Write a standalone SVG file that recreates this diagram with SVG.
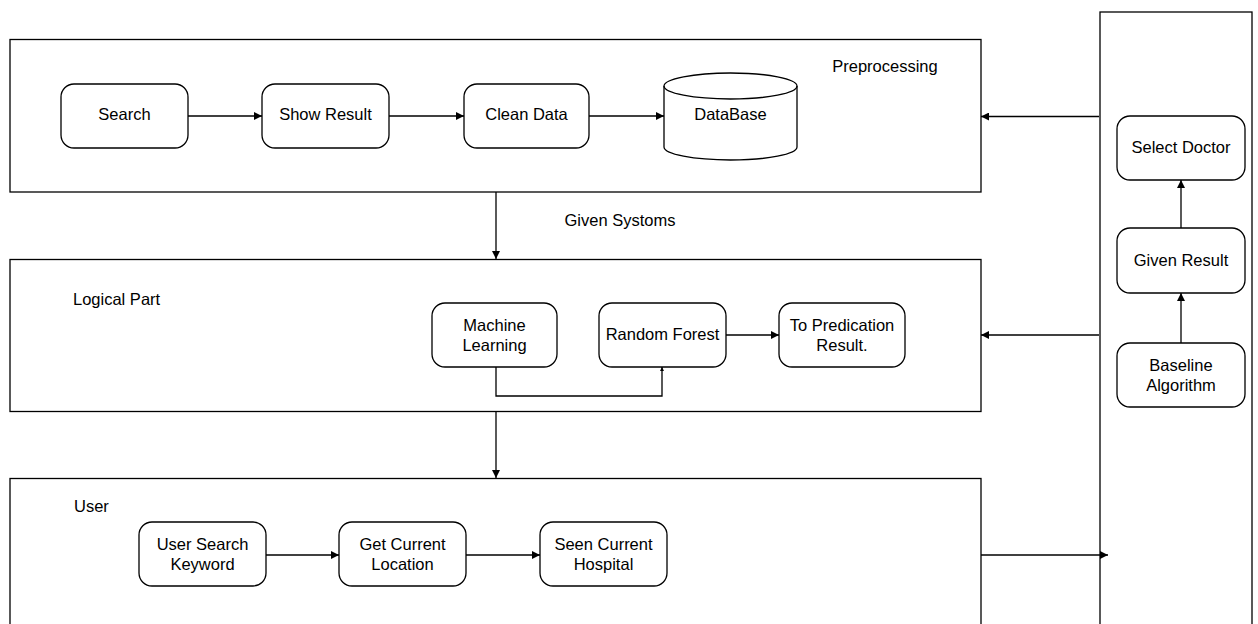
<svg xmlns="http://www.w3.org/2000/svg" width="1258" height="624" viewBox="0 0 1258 624">
<style>
.c{fill:#fff;stroke:#000;stroke-width:1.3}
.n{fill:#fff;stroke:#000;stroke-width:1.3}
.e{fill:none;stroke:#000;stroke-width:1.3}
text{font-family:"Liberation Sans",Arial,sans-serif;font-size:16.5px;fill:#000;text-anchor:middle}
.l{text-anchor:start}
</style>
<defs>
<marker id="a" viewBox="0 0 10 10" refX="10" refY="5" markerWidth="8" markerHeight="8" markerUnits="userSpaceOnUse" orient="auto"><path d="M0,0 L10,5 L0,10 Z" fill="#000"/></marker>
<marker id="s" viewBox="0 0 10 10" refX="10" refY="5" markerWidth="6" markerHeight="4" markerUnits="userSpaceOnUse" orient="auto"><path d="M0,0 L10,5 L0,10 Z" fill="#000"/></marker>
</defs>
<g id="preprocessing"><rect class="c" x="10" y="39.5" width="971" height="152.5"/><text x="885" y="72">Preprocessing</text></g>
<g id="logical"><rect class="c" x="10" y="259.5" width="971" height="152"/><text class="l" x="73" y="305">Logical Part</text></g>
<g id="user"><rect class="c" x="10" y="478.5" width="971" height="160"/><text class="l" x="74" y="512">User</text></g>
<g id="right"><rect class="c" x="1100" y="12" width="152" height="630"/></g>
<g id="search"><rect class="n" x="61" y="84" width="127" height="64" rx="13"/><text x="124.5" y="120">Search</text></g>
<g id="showresult"><rect class="n" x="262" y="84" width="127" height="64" rx="13"/><text x="325.5" y="120">Show Result</text></g>
<g id="cleandata"><rect class="n" x="464" y="84" width="125" height="64" rx="13"/><text x="526.5" y="120">Clean Data</text></g>
<g id="database"><path class="n" d="M664,86 L664,147 A66.5,13 0 0 0 797,147 L797,86 A66.5,13 0 0 0 664,86 Z"/><path class="e" d="M664,86 A66.5,13 0 0 0 797,86"/><text x="730.5" y="120">DataBase</text></g>
<g id="ml"><rect class="n" x="432" y="303" width="125" height="64" rx="13"/><text x="494.5" y="331">Machine</text><text x="494.5" y="351">Learning</text></g>
<g id="rf"><rect class="n" x="599" y="303" width="127" height="64" rx="13"/><text x="662.5" y="340">Random Forest</text></g>
<g id="tp"><rect class="n" x="779" y="303" width="126" height="64" rx="13"/><text x="842" y="331">To Predication</text><text x="842" y="351">Result.</text></g>
<g id="usk"><rect class="n" x="139" y="522" width="127" height="64" rx="13"/><text x="202.5" y="550">User Search</text><text x="202.5" y="570">Keyword</text></g>
<g id="gcl"><rect class="n" x="339" y="522" width="127" height="64" rx="13"/><text x="402.5" y="550">Get Current</text><text x="402.5" y="570">Location</text></g>
<g id="sch"><rect class="n" x="540" y="522" width="127" height="64" rx="13"/><text x="603.5" y="550">Seen Current</text><text x="603.5" y="570">Hospital</text></g>
<g id="sd"><rect class="n" x="1117" y="116" width="128" height="64" rx="13"/><text x="1181" y="153">Select Doctor</text></g>
<g id="gr"><rect class="n" x="1117" y="228" width="128" height="65" rx="13"/><text x="1181" y="266">Given Result</text></g>
<g id="ba"><rect class="n" x="1117" y="343" width="128" height="64" rx="13"/><text x="1181" y="371">Baseline</text><text x="1181" y="391">Algorithm</text></g>
<g id="connectors">
<path class="e" marker-end="url(#a)" d="M188,116 H262"/>
<path class="e" marker-end="url(#a)" d="M389,116 H464"/>
<path class="e" marker-end="url(#a)" d="M589,116 H664"/>
<path class="e" marker-end="url(#a)" d="M1099,116.5 H981"/>
<path class="e" marker-end="url(#a)" d="M1099,335 H981"/>
<path class="e" marker-end="url(#a)" d="M981,555 H1108"/>
<path class="e" marker-end="url(#a)" d="M496,192 V259"/>
<path class="e" marker-end="url(#a)" d="M496,411.5 V478"/>
<path class="e" marker-end="url(#s)" d="M496,367 V396 H662 V367"/>
<path class="e" marker-end="url(#a)" d="M726,335 H779"/>
<path class="e" marker-end="url(#a)" d="M266,555 H339"/>
<path class="e" marker-end="url(#a)" d="M466,555 H540"/>
<path class="e" marker-end="url(#a)" d="M1181,343 V293"/>
<path class="e" marker-end="url(#a)" d="M1181,228 V180"/>
<text x="620" y="226">Given Systoms</text>
</g>
</svg>
